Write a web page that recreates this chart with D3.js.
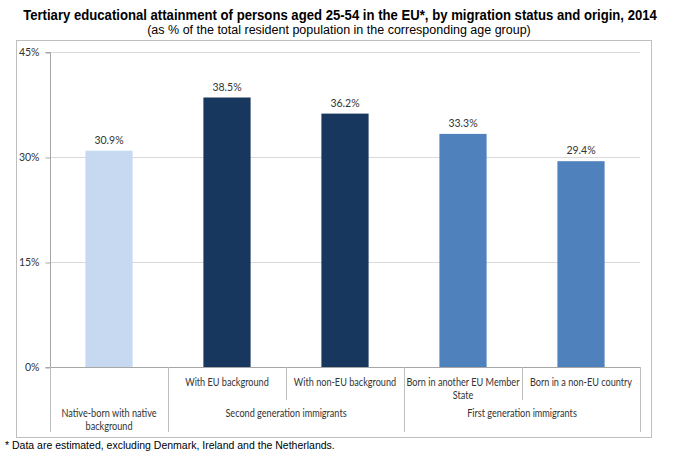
<!DOCTYPE html>
<html><head><meta charset="utf-8">
<script src="https://cdn.jsdelivr.net/npm/d3@7"></script>
<style>body{margin:0;background:#fff}</style>
</head><body>
<svg id="c" width="700" height="457"></svg>
<script>
const categories = ["Native-born with native background","With EU background","With non-EU background","Born in another EU Member State","Born in a non-EU country"];
const level1Labels = [[], ["With EU background"], ["With non-EU background"], ["Born in another EU Member","State"], ["Born in a non-EU country"]];
const groups = [
  {name:["Native-born with native","background"], from:0, to:0},
  {name:["Second generation immigrants"], from:1, to:2},
  {name:["First generation immigrants"], from:3, to:4}
];
const values = [30.9, 38.5, 36.2, 33.3, 29.4];
const barColors = ["#C6D9F1","#17375E","#17375E","#4F81BD","#4F81BD"];
const yTicks = [0, 15, 30, 45];

const svg = d3.select("#c");
const L = 50, R = 640, T = 52, B = 367;
const x = d3.scaleBand().domain(categories).range([L, R]).padding(0);
const y = d3.scaleLinear().domain([0, 45]).range([B, T]);
const bw = x.bandwidth() * 0.4;

// helper: draw text horizontally condensed to a target width
function fitText(sel, cx, cy, str, targetW, attrs) {
  const g = sel.append("g");
  const t = g.append("text").attr("text-anchor","middle").text(str);
  Object.entries(attrs).forEach(([k,v])=>t.attr(k,v));
  const w = t.node().getComputedTextLength();
  const s = Math.min(1, targetW / w);
  g.attr("transform",`translate(${cx},${cy}) scale(${s},1)`);
  return g;
}

// frame
svg.append("rect").attr("x",16.5).attr("y",40.5).attr("width",635).attr("height",397)
  .attr("fill","none").attr("stroke","#BFBFBF").attr("stroke-width",1);

// title
fitText(svg, 340, 20, "Tertiary educational attainment of persons aged 25-54 in the EU*, by migration status and origin, 2014", 634,
  {"font-family":"Liberation Sans, Arial","font-weight":"bold","font-size":14.5,"fill":"#000"});
fitText(svg, 339, 34, "(as % of the total resident population in the corresponding age group)", 388,
  {"font-family":"Liberation Sans, Arial","font-size":12.5,"fill":"#000"});

// gridlines
svg.append("g").selectAll("line").data(yTicks.filter(d=>d>0)).join("line")
  .attr("x1",L).attr("x2",R).attr("y1",d=>Math.round(y(d))+0.5).attr("y2",d=>Math.round(y(d))+0.5)
  .attr("stroke","#D9D9D9").attr("stroke-width",1);

// y axis
const yAxis = d3.axisLeft(y).tickValues(yTicks).tickFormat(d=>d+"%").tickSize(5).tickPadding(6);
const gy = svg.append("g").attr("transform",`translate(${L+0.5},0.5)`).call(yAxis);
gy.select(".domain").attr("stroke","#A6A6A6").attr("d",`M-5,${T}H0V${B}H-5`);
gy.selectAll(".tick line").attr("stroke","#A6A6A6");
gy.selectAll(".tick text").attr("font-family","Lato, Open Sans, sans-serif").attr("font-size",10.5).attr("fill","#333");

// bars
svg.append("g").selectAll("rect").data(values).join("rect")
  .attr("x",(d,i)=>x(categories[i]) + (x.bandwidth()-bw)/2)
  .attr("y",d=>y(d)).attr("width",bw).attr("height",d=>y(0)-y(d))
  .attr("fill",(d,i)=>barColors[i]);

// value labels
svg.append("g").selectAll("text").data(values).join("text")
  .attr("x",(d,i)=>x(categories[i]) + x.bandwidth()/2)
  .attr("y",d=>y(d)-7).attr("text-anchor","middle")
  .attr("font-family","Lato, Open Sans, sans-serif").attr("font-size",10.5).attr("fill","#333")
  .text(d=>d.toFixed(1)+"%");

// x axis baseline
svg.append("line").attr("x1",L).attr("x2",R).attr("y1",B+0.5).attr("y2",B+0.5).attr("stroke","#A6A6A6");

// category dividers
const axisG = svg.append("g").attr("stroke","#BFBFBF");
const groupBounds = [];
groups.forEach(g=>{ groupBounds.push(x(categories[g.from])); });
groupBounds.push(R);
groupBounds.forEach(b=>{
  axisG.append("line").attr("x1",Math.round(b)+0.5).attr("x2",Math.round(b)+0.5).attr("y1",B).attr("y2",432);
});
groups.forEach(g=>{
  for(let i=g.from+1;i<=g.to;i++){
    const b = x(categories[i]);
    axisG.append("line").attr("x1",Math.round(b)+0.5).attr("x2",Math.round(b)+0.5).attr("y1",B).attr("y2",400);
  }
});

// labels (Calibri-like narrow text)
const lab = svg.append("g");
const labAttrs = {"font-family":"Lato, Open Sans, sans-serif","font-size":10.5,"fill":"#333"};
const cond = 0.87;
function condText(cx, cy, str) {
  const t = lab.append("text").attr("text-anchor","middle")
    .attr("transform",`translate(${cx},${cy}) scale(${cond},1)`).text(str);
  Object.entries(labAttrs).forEach(([k,v])=>t.attr(k,v));
}
level1Labels.forEach((lines,i)=>{
  lines.forEach((t,j)=> condText(x(categories[i])+x.bandwidth()/2, 386+j*12.5, t));
});
groups.forEach(g=>{
  const cx = (x(categories[g.from]) + x(categories[g.to]) + x.bandwidth())/2;
  g.name.forEach((t,j)=> condText(cx, 417+j*13, t));
});

// footnote
svg.append("text").attr("x",5).attr("y",449)
  .attr("font-family","Liberation Sans, Arial").attr("font-size",10.5).attr("fill","#000")
  .text("* Data are estimated, excluding Denmark, Ireland and the Netherlands.");
</script>
</body></html>
